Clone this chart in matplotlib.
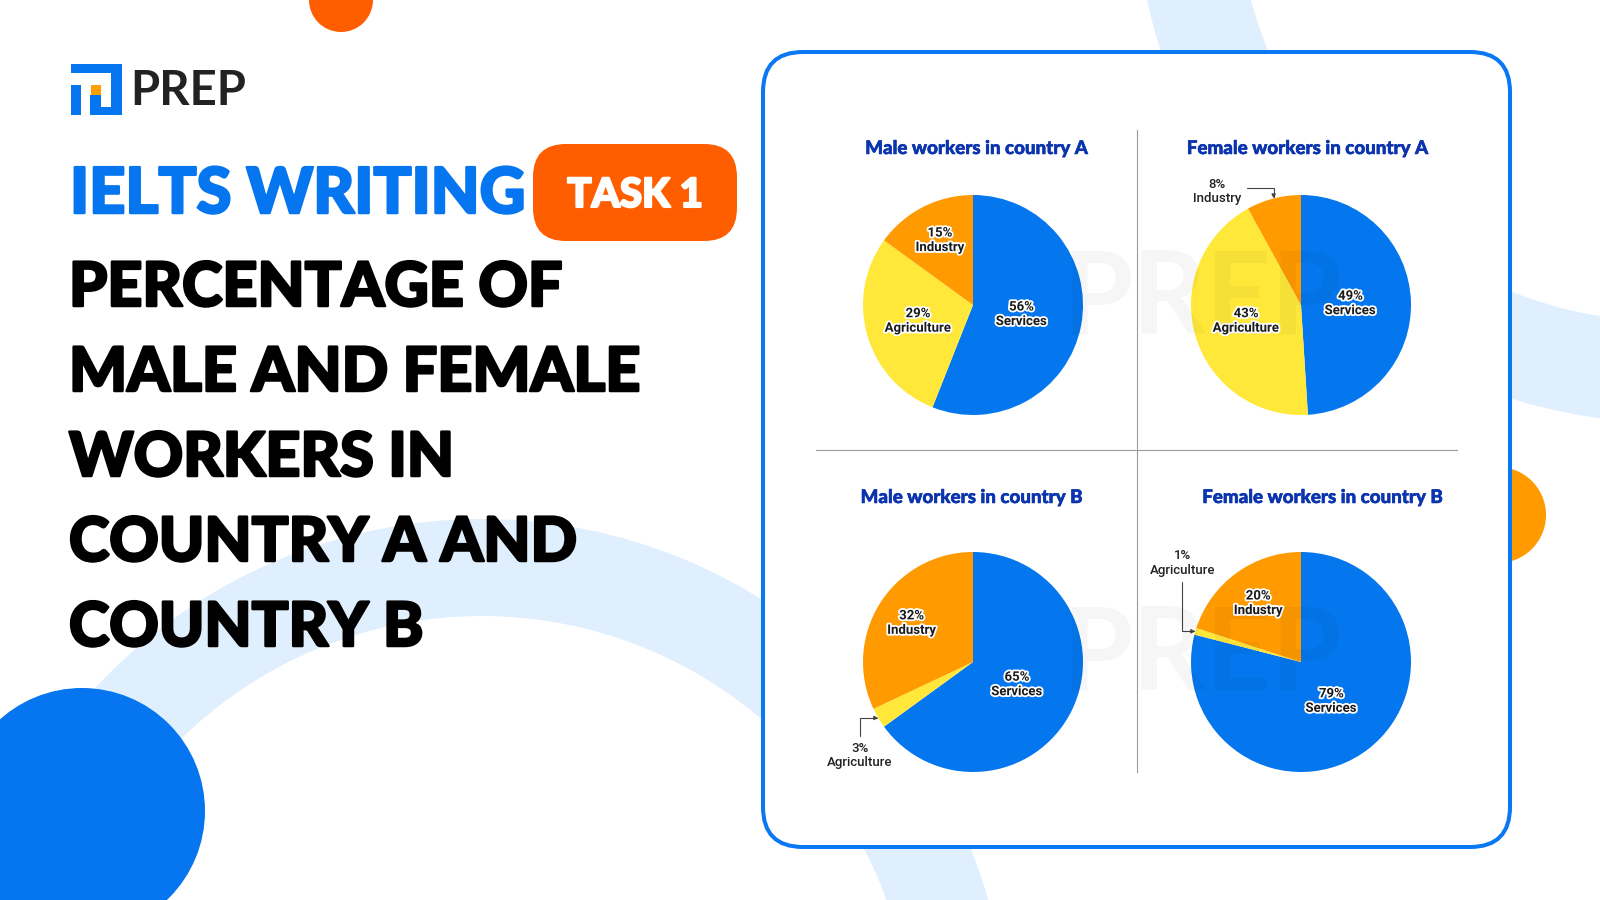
import matplotlib
matplotlib.use("Agg")
import matplotlib.pyplot as plt
import matplotlib.patches as mpatches
import matplotlib.patheffects as pe
import numpy as np

# chart data
categories = ["Services", "Agriculture", "Industry"]
titles = ["Male workers in country A", "Female workers in country A",
          "Male workers in country B", "Female workers in country B"]
male_a = [56, 29, 15]
female_a = [49, 43, 8]
male_b = [65, 3, 32]
female_b = [79, 1, 20]
heading_lines = ["PERCENTAGE OF", "MALE AND FEMALE", "WORKERS IN",
                 "COUNTRY A AND", "COUNTRY B"]

# styling
W, H = 1600, 900
slice_colors = ["#0477EE", "#FFE83A", "#FF9A00"]
blue = "#0575F0"
light_blue = "#E0EFFD"
orange_red = "#FF5E00"
title_color = "#0B34AE"
heavy = ["Lato", "DejaVu Sans"]
label_font = ["Roboto", "DejaVu Sans"]


def thick(color, lw):
    # fatten the glyphs with a stroke in the same colour
    return [pe.withStroke(linewidth=lw, foreground=color, capstyle="round", joinstyle="round")]


fig = plt.figure(figsize=(16, 9), dpi=100)
fig.patch.set_facecolor("white")

# background axes in pixel units (y pointing down)
bg = fig.add_axes([0, 0, 1, 1])
bg.set_xlim(0, W)
bg.set_ylim(H, 0)
bg.axis("off")

# decorative rings and circles
bg.add_patch(mpatches.Annulus((482, 1046), 527, 97, color=light_blue, lw=0, zorder=1))
bg.add_patch(mpatches.Annulus((1671, -113), 536, 101, color=light_blue, lw=0, zorder=1))
bg.add_patch(mpatches.Circle((341, 0), 32, color=orange_red, lw=0, zorder=2))
bg.add_patch(mpatches.Circle((82, 811), 123, color=blue, lw=0, zorder=2))
bg.add_patch(mpatches.Circle((1498, 515), 48, color="#FF9A00", lw=0, zorder=2))

# panel
bg.add_patch(mpatches.FancyBboxPatch((763, 52), 747, 795,
                                     boxstyle="round,pad=0,rounding_size=40",
                                     facecolor="white", edgecolor="#0A78F2",
                                     lw=2.9, zorder=3))
bg.plot([1137, 1137], [130, 772], color="#9a9a9a", lw=0.8, zorder=4)
bg.plot([816, 1457], [450, 450], color="#9a9a9a", lw=0.8, zorder=4)

# logo
for x, y, w, h in [(71, 64, 51, 8.5), (111, 64, 11, 43), (90, 106.5, 32, 8.5),
                   (71, 85, 9.5, 30), (90, 95, 11, 20)]:
    bg.add_patch(mpatches.Rectangle((x, y), w, h, color=blue, lw=0, zorder=4))
bg.add_patch(mpatches.Rectangle((90.5, 84.5), 10.5, 10.5, color="#FFA000", lw=0, zorder=4))
bg.text(130, 105, "PREP", fontsize=34, family=heavy, weight="bold",
        color="#222222", ha="left", va="baseline", zorder=5)

# headline
bg.text(70, 213, "IELTS WRITING", fontsize=45.5, family=heavy, weight="black",
        color=blue, ha="left", va="baseline", zorder=5, path_effects=thick(blue, 1.8))
bg.add_patch(mpatches.FancyBboxPatch((533, 144), 204, 97,
                                     boxstyle="round,pad=0,rounding_size=33",
                                     facecolor=orange_red, lw=0, zorder=4))
bg.text(635, 207, "TASK 1", fontsize=29, family=heavy, weight="black",
        color="white", ha="center", va="baseline", zorder=5,
        path_effects=thick("white", 1.5))
for i, line in enumerate(heading_lines):
    bg.text(69, 306 + 85 * i, line, fontsize=44, family=heavy, weight="black",
            color="black", ha="left", va="baseline", zorder=5,
            path_effects=thick("black", 1.8))

# pies
pie_data = [male_a, female_a, male_b, female_b]
centers = [(973, 305), (1301, 305), (973, 662), (1301, 662)]
title_pos = [(977, 154), (1308, 154), (972, 503), (1323, 503)]
label_r = {"Services": 0.45, "Agriculture": 0.52, "Industry": 0.66}
# outside labels: text offset (pie units), arrow connection angles, arrow start
callouts = {
    1: ((-0.76, 1.03), "angle,angleA=0,angleB=90,rad=0", (0.9, 0.62)),
    2: ((-1.03, -0.85), "angle,angleA=90,angleB=0,rad=0", (0.5, 1.0)),
    3: ((-1.08, 0.90), "angle,angleA=90,angleB=0,rad=0", (0.5, 0.0)),
}
half = 150
scale = half / 110.0

for k, values in enumerate(pie_data):
    cx, cy = centers[k]
    ax = fig.add_axes([(cx - half) / W, (H - cy - half) / H, 2 * half / W, 2 * half / H])
    ax.pie(values, colors=slice_colors, startangle=90, counterclock=False,
           radius=1, wedgeprops=dict(linewidth=0))
    ax.set_xlim(-scale, scale)
    ax.set_ylim(-scale, scale)
    ax.axis("off")

    total = sum(values)
    before = 0
    for cat, v in zip(categories, values):
        mid = np.deg2rad(90 - 360 * (before + v / 2) / total)
        before += v
        txt = f"{v}%\n{cat}"
        if v < 10:
            offset, conn, rel = callouts[k]
            ax.annotate(txt, xy=(np.cos(mid), np.sin(mid)), xytext=offset,
                        ha="center", va="center", fontsize=9.5, family=label_font,
                        weight="medium", color="#222222", linespacing=1.15,
                        arrowprops=dict(arrowstyle="-|>", color="#444444", lw=0.8,
                                        mutation_scale=6, connectionstyle=conn,
                                        relpos=rel, shrinkA=2, shrinkB=0))
        else:
            r = label_r[cat]
            ax.text(r * np.cos(mid), r * np.sin(mid), txt, ha="center", va="center",
                    fontsize=9.5, family=label_font, weight="bold", color="#1a1a1a",
                    linespacing=1.15,
                    path_effects=[pe.withStroke(linewidth=2.6, foreground="white")])

    tx, ty = title_pos[k]
    bg.text(tx, ty, titles[k], fontsize=13.5, family=heavy, weight="black",
            color=title_color, ha="center", va="baseline", zorder=5,
            path_effects=thick(title_color, 0.4))

# faint watermark
for cy in [333, 690]:
    fig.text(1063 / W, 1 - cy / H, "PREP", fontsize=82, family=heavy, weight="bold",
             color="black", alpha=0.035, ha="left", va="baseline", zorder=6)

fig.savefig("out.png", dpi=100)
